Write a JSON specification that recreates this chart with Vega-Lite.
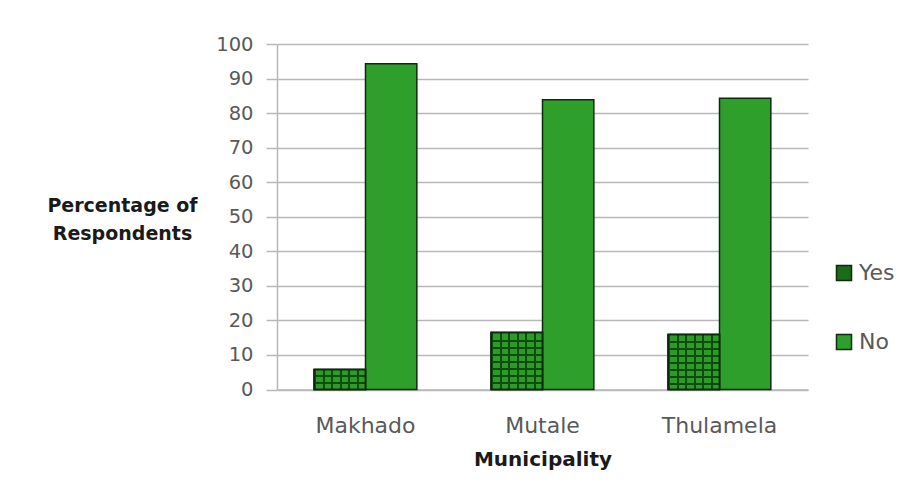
{
  "$schema": "https://vega.github.io/schema/vega-lite/v6.json",
  "width": 531,
  "height": 345.5,
  "autosize": {"type": "none"},
  "padding": {"left": 277, "top": 44, "right": 112, "bottom": 114.5},
  "background": "white",
  "config": {"view": {"stroke": null}, "font": "DejaVu Sans"},
  "data": {
    "values": [
      {"municipality": "Makhado", "answer": "Yes", "percentage": 5.8},
      {"municipality": "Makhado", "answer": "No", "percentage": 94.3},
      {"municipality": "Mutale", "answer": "Yes", "percentage": 16.5},
      {"municipality": "Mutale", "answer": "No", "percentage": 83.9},
      {"municipality": "Thulamela", "answer": "Yes", "percentage": 15.9},
      {"municipality": "Thulamela", "answer": "No", "percentage": 84.3}
    ]
  },
  "encoding": {
    "x": {
      "field": "municipality",
      "type": "nominal",
      "sort": ["Makhado", "Mutale", "Thulamela"],
      "scale": {"paddingInner": 0.42, "paddingOuter": 0.21},
      "axis": {
        "labelAngle": 0,
        "ticks": false,
        "domain": true,
        "domainColor": "#b8b8b8",
        "domainWidth": 1.5,
        "labelFont": "DejaVu Sans",
        "labelFontSize": 22,
        "labelColor": "#595959",
        "labelBaseline": "alphabetic",
        "labelPadding": 42.5,
        "title": "Municipality",
        "titleFont": "DejaVu Sans",
        "titleFontSize": 20,
        "titleFontWeight": "bold",
        "titleColor": "#1a1a1a",
        "titleBaseline": "alphabetic",
        "titleY": 75.5
      }
    },
    "xOffset": {
      "field": "answer",
      "type": "nominal",
      "sort": ["Yes", "No"],
      "scale": {"paddingInner": 0, "paddingOuter": 0}
    },
    "y": {
      "field": "percentage",
      "type": "quantitative",
      "scale": {"domain": [0, 100]},
      "axis": {
        "values": [0, 10, 20, 30, 40, 50, 60, 70, 80, 90, 100],
        "grid": true,
        "gridColor": "#b8b8b8",
        "gridWidth": 1.5,
        "domain": true,
        "domainColor": "#b8b8b8",
        "domainWidth": 1.5,
        "ticks": true,
        "tickSize": 11,
        "tickColor": "#b8b8b8",
        "tickWidth": 1.5,
        "labelFont": "DejaVu Sans",
        "labelFontSize": 19.5,
        "labelColor": "#595959",
        "labelPadding": 13,
        "title": ["Percentage of", "Respondents"],
        "titleFont": "DejaVu Sans",
        "titleAngle": 0,
        "titleAlign": "center",
        "titleBaseline": "alphabetic",
        "titleX": -155,
        "titleY": 167,
        "titleFontSize": 19,
        "titleFontWeight": "bold",
        "titleColor": "#1a1a1a",
        "titleLineHeight": 28
      }
    }
  },
  "layer": [
    {
      "mark": {"type": "bar", "stroke": "#0e2a0c", "strokeWidth": 1.5},
      "encoding": {
        "color": {
          "field": "answer",
          "type": "nominal",
          "sort": ["Yes", "No"],
          "scale": {"domain": ["Yes", "No"], "range": ["#1b6b18", "#2e9f2a"]},
          "legend": {
            "orient": "none",
            "legendX": 556,
            "legendY": 218,
            "title": null,
            "padding": 0,
            "symbolType": "square",
            "symbolSize": 225,
            "symbolStrokeColor": "#0e2a0c",
            "symbolStrokeWidth": 1.5,
            "symbolOpacity": 1,
            "labelFont": "DejaVu Sans",
            "labelFontSize": 22,
            "labelColor": "#595959",
            "labelOffset": 4,
            "rowPadding": 47
          }
        }
      }
    },
    {
      "transform": [{"filter": "datum.answer === 'Yes'"}],
      "mark": {
        "type": "bar",
        "stroke": "#0e2a0c",
        "strokeWidth": 1.5,
        "fill": {
          "gradient": "linear", "x1": 0, "y1": 0, "x2": 1, "y2": 0,
          "stops": [
            {"offset": 0, "color": "#0b4d0b"}, {"offset": 0.04, "color": "#0b4d0b"},
            {"offset": 0.04, "color": "#2f9a2a"}, {"offset": 0.1667, "color": "#2f9a2a"},
            {"offset": 0.1667, "color": "#0b4d0b"}, {"offset": 0.2067, "color": "#0b4d0b"},
            {"offset": 0.2067, "color": "#2f9a2a"}, {"offset": 0.3333, "color": "#2f9a2a"},
            {"offset": 0.3333, "color": "#0b4d0b"}, {"offset": 0.3733, "color": "#0b4d0b"},
            {"offset": 0.3733, "color": "#2f9a2a"}, {"offset": 0.5, "color": "#2f9a2a"},
            {"offset": 0.5, "color": "#0b4d0b"}, {"offset": 0.54, "color": "#0b4d0b"},
            {"offset": 0.54, "color": "#2f9a2a"}, {"offset": 0.6667, "color": "#2f9a2a"},
            {"offset": 0.6667, "color": "#0b4d0b"}, {"offset": 0.7067, "color": "#0b4d0b"},
            {"offset": 0.7067, "color": "#2f9a2a"}, {"offset": 0.8333, "color": "#2f9a2a"},
            {"offset": 0.8333, "color": "#0b4d0b"}, {"offset": 0.8733, "color": "#0b4d0b"},
            {"offset": 0.8733, "color": "#2f9a2a"}, {"offset": 1, "color": "#2f9a2a"}
          ]
        }
      }
    },
    {
      "transform": [{"filter": "datum.answer === 'Yes' && datum.municipality === 'Makhado'"}],
      "mark": {
        "type": "bar",
        "stroke": "#0e2a0c",
        "strokeWidth": 1.5,
        "fill": {
          "gradient": "linear", "x1": 0, "y1": 0, "x2": 0, "y2": 1,
          "stops": [
            {"offset": 0, "color": "rgba(11,77,11,0)"}, {"offset": 0.3, "color": "rgba(11,77,11,0)"},
            {"offset": 0.3, "color": "#0b4d0b"}, {"offset": 0.38, "color": "#0b4d0b"},
            {"offset": 0.38, "color": "rgba(11,77,11,0)"}, {"offset": 0.63, "color": "rgba(11,77,11,0)"},
            {"offset": 0.63, "color": "#0b4d0b"}, {"offset": 0.71, "color": "#0b4d0b"},
            {"offset": 0.71, "color": "rgba(11,77,11,0)"}, {"offset": 1, "color": "rgba(11,77,11,0)"}
          ]
        }
      }
    },
    {
      "transform": [{"filter": "datum.answer === 'Yes' && datum.municipality !== 'Makhado'"}],
      "mark": {
        "type": "bar",
        "stroke": "#0e2a0c",
        "strokeWidth": 1.5,
        "fill": {
          "gradient": "linear", "x1": 0, "y1": 0, "x2": 0, "y2": 1,
          "stops": [
            {"offset": 0, "color": "rgba(11,77,11,0)"}, {"offset": 0.125, "color": "rgba(11,77,11,0)"},
            {"offset": 0.125, "color": "#0b4d0b"}, {"offset": 0.16, "color": "#0b4d0b"},
            {"offset": 0.16, "color": "rgba(11,77,11,0)"}, {"offset": 0.25, "color": "rgba(11,77,11,0)"},
            {"offset": 0.25, "color": "#0b4d0b"}, {"offset": 0.285, "color": "#0b4d0b"},
            {"offset": 0.285, "color": "rgba(11,77,11,0)"}, {"offset": 0.375, "color": "rgba(11,77,11,0)"},
            {"offset": 0.375, "color": "#0b4d0b"}, {"offset": 0.41, "color": "#0b4d0b"},
            {"offset": 0.41, "color": "rgba(11,77,11,0)"}, {"offset": 0.5, "color": "rgba(11,77,11,0)"},
            {"offset": 0.5, "color": "#0b4d0b"}, {"offset": 0.535, "color": "#0b4d0b"},
            {"offset": 0.535, "color": "rgba(11,77,11,0)"}, {"offset": 0.625, "color": "rgba(11,77,11,0)"},
            {"offset": 0.625, "color": "#0b4d0b"}, {"offset": 0.66, "color": "#0b4d0b"},
            {"offset": 0.66, "color": "rgba(11,77,11,0)"}, {"offset": 0.75, "color": "rgba(11,77,11,0)"},
            {"offset": 0.75, "color": "#0b4d0b"}, {"offset": 0.785, "color": "#0b4d0b"},
            {"offset": 0.785, "color": "rgba(11,77,11,0)"}, {"offset": 0.875, "color": "rgba(11,77,11,0)"},
            {"offset": 0.875, "color": "#0b4d0b"}, {"offset": 0.91, "color": "#0b4d0b"},
            {"offset": 0.91, "color": "rgba(11,77,11,0)"}, {"offset": 1, "color": "rgba(11,77,11,0)"}
          ]
        }
      }
    }
  ]
}
